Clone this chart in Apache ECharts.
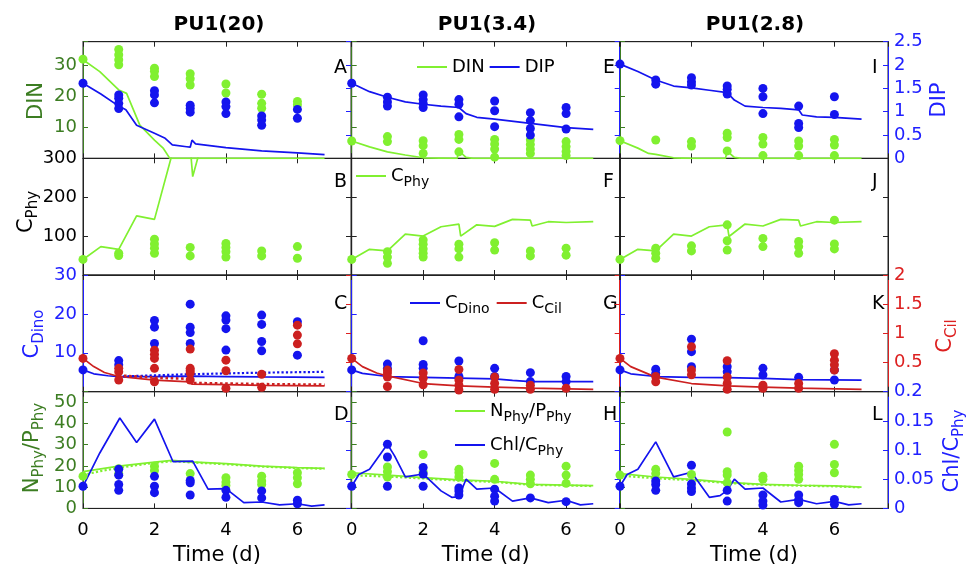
<!DOCTYPE html>
<html><head><meta charset="utf-8">
<script src="https://cdn.jsdelivr.net/npm/echarts@6/dist/echarts.min.js"></script>
<style>html,body{margin:0;padding:0;background:#fff}#c{width:971px;height:573px}</style>
</head><body><div id="c"></div>
<script>
// ---------------- DATA ----------------
const columnTitles = ['PU1(20)', 'PU1(3.4)', 'PU1(2.8)'];
const panelLetters = [['A','E','I'],['B','F','J'],['C','G','K'],['D','H','L']];
const xTicks = [0, 2, 4, 6];
const dinTicks = [10, 20, 30];
const dipTicks = [0, 0.5, 1, 1.5, 2, 2.5];
const cphyTicks = [100, 200, 300];
const cdinoTicks = [10, 20, 30];
const ccilTicks = [0.5, 1, 1.5, 2];
const npTicks = [0, 10, 20, 30, 40, 50];
const chlTicks = [0, 0.05, 0.1, 0.15, 0.2];

// Row 1: DIN / DIP
const din_obs_20 = [[0,31.9],[1,35],[1,33.3],[1,31.7],[1,30.1],[2,29],[2,28],[2,26.3],[3,27.2],[3,25.6],[3,23.6],[4,23.9],[4,21],[5,20.6],[5,17.7],[5,16.1],[6,18.3],[6,17.2]];
const dip_obs_20 = [[0,1.61],[1,1.36],[1,1.29],[1,1.18],[1,1.07],[2,1.45],[2,1.36],[2,1.19],[3,1.14],[3,1.07],[3,0.99],[4,1.21],[4,1.11],[4,0.96],[5,0.91],[5,0.82],[5,0.71],[6,1.05],[6,0.86]];
const din_line_20 = [[0,31.7],[0.47,27.9],[1,22],[1.22,20.9],[1.59,10.7],[2,5.9],[2.25,3.2],[2.43,0],[6.76,0]];
const dip_line_20 = [[0,1.61],[0.5,1.38],[1,1.12],[1.2,1.04],[1.5,0.71],[2,0.54],[2.3,0.43],[2.5,0.29],[2.9,0.25],[3.0,0.24],[3.05,0.39],[3.15,0.31],[4,0.23],[5,0.16],[6,0.12],[6.76,0.08]];

const din_obs_34 = [[0,5.6],[1,7],[1,5.4],[2,5.7],[2,4.1],[2,1.6],[3,7.7],[3,6.1],[3,2.1],[4,6.1],[4,4.6],[4,3.0],[4,0.4],[5,6],[5,4.5],[5,3],[5,1.6],[6,5.4],[6,3.8],[6,2.2],[6,0.9]];
const dip_obs_34 = [[0,1.61],[1,1.31],[1,1.21],[1,1.12],[2,1.36],[2,1.26],[2,1.18],[2,1.09],[3,1.26],[3,1.16],[3,0.89],[4,1.23],[4,1.02],[4,0.68],[5,0.98],[5,0.81],[5,0.64],[5,0.5],[6,1.09],[6,0.96],[6,0.63]];
const din_line_34 = [[0,5.6],[0.5,3.7],[1,2.1],[1.5,1.1],[2,0.2],[2.95,0],[3.0,2.4],[3.2,0.3],[3.4,0],[6.76,0]];
const dip_line_34 = [[0,1.61],[0.5,1.43],[1,1.31],[1.5,1.21],[2,1.16],[2.5,1.12],[3,1.09],[3.2,0.96],[3.5,0.88],[4,0.84],[5,0.75],[6,0.66],[6.76,0.62]];

const din_obs_28 = [[0,5.7],[1,5.9],[2,5.4],[2,4],[3,8.1],[3,6.7],[3,2.4],[4,6.7],[4,4.6],[4,0.9],[5,5.6],[5,4],[5,0.9],[6,6.1],[6,4.3],[6,0.9]];
const dip_obs_28 = [[0,2.02],[1,1.68],[1,1.59],[2,1.73],[2,1.64],[2,1.57],[3,1.55],[3,1.48],[3,1.38],[4,1.5],[4,1.32],[4,0.96],[5,1.12],[5,0.75],[5,0.66],[6,1.32],[6,0.94]];
const din_line_28 = [[0,5.7],[0.5,3.3],[0.8,1.6],[1,1.3],[1.5,0.2],[2,0],[2.95,0],[3.0,2.3],[3.2,0.3],[3.4,0],[6.76,0]];
const dip_line_28 = [[0,2.02],[0.5,1.86],[1,1.68],[1.5,1.55],[2,1.51],[2.5,1.46],[3,1.41],[3.2,1.25],[3.5,1.12],[4,1.09],[4.5,1.07],[5,1.04],[5.1,0.93],[5.5,0.89],[6,0.88],[6.76,0.84]];

// Row 2: C_Phy
const cphy_obs_20 = [[0,40],[1,56],[1,50],[2,92],[2,80],[2,69],[2,56],[3,71],[3,49],[4,81],[4,71],[4,60],[4,46],[5,62],[5,49],[6,73],[6,43]];
const cphy_line_20 = [[0,40],[0.5,73],[1,66],[1.5,152],[2,143],[2.55,330],[3.0,330],[3.07,253],[3.3,330],[6.76,340]];
const cphy_obs_34 = [[0,40],[1,60],[1,46],[1,30],[2,90],[2,79],[2,67],[2,56],[2,46],[3,79],[3,67],[3,46],[4,83],[4,64],[5,62],[5,49],[6,69],[6,51]];
const cphy_line_34 = [[0,40],[0.5,66],[1,62],[1.5,105],[2,100],[2.5,124],[3,131],[3.05,100],[3.5,129],[4,125],[4.5,143],[5,141],[5.05,126],[5.5,137],[6,135],[6.76,137]];
const cphy_obs_28 = [[0,40],[1,69],[1,56],[1,43],[2,75],[2,62],[3,129],[3,88],[3,64],[4,94],[4,73],[5,86],[5,73],[5,56],[6,141],[6,80],[6,67]];
const cphy_line_28 = [[0,40],[0.5,66],[1,62],[1.5,105],[2,100],[2.5,124],[3,129],[3.05,99],[3.5,131],[4,126],[4.5,143],[5,141],[5.05,126],[5.5,137],[6,135],[6.76,137]];

// Row 3: C_Dino / C_Cil
const cdino_obs_20 = [[0,5.6],[1,8],[1,6.9],[2,18.3],[2,16.6],[2,12.4],[3,22.5],[3,16.6],[3,15.2],[3,12.4],[4,19.5],[4,18.4],[4,16.2],[4,10.7],[5,19.7],[5,17.3],[5,12.9],[5,10.5],[6,18],[6,9.4]];
const ccil_obs_20 = [[0,0.57],[1,0.40],[1,0.34],[1,0.2],[2,0.71],[2,0.64],[2,0.57],[2,0.40],[2,0.17],[3,0.73],[3,0.40],[3,0.36],[3,0.32],[3,0.2],[4,0.54],[4,0.36],[4,0.06],[5,0.3],[5,0.075],[6,1.14],[6,0.97],[6,0.82]];
const cdino_line_20 = [[0,5.6],[0.3,4.6],[0.7,4.1],[1,3.9],[2,3.9],[3,4.0],[4,3.9],[5,3.8],[6.76,3.7]];
const cdino_dot_20 = [[1,3.9],[2,4.2],[3,4.5],[4,4.7],[5,4.9],[6.76,5.1]];
const ccil_line_20 = [[0,0.57],[0.3,0.43],[0.6,0.33],[1,0.26],[2,0.2],[3,0.17],[3.05,0.13],[4,0.12],[5,0.11],[6.76,0.1]];
const ccil_dot_20 = [[1,0.28],[2,0.24],[3,0.22],[3.05,0.15],[4,0.14],[5,0.13],[6.76,0.12]];

const cdino_obs_34 = [[0,5.6],[1,7.1],[1,6.0],[2,13.1],[2,7.0],[2,6.0],[3,7.9],[3,3.9],[4,6.0],[4,3.9],[5,4.9],[5,2.6],[6,3.9],[6,2.6]];
const ccil_obs_34 = [[0,0.57],[1,0.37],[1,0.32],[1,0.25],[1,0.09],[2,0.32],[2,0.23],[2,0.12],[3,0.38],[3,0.2],[3,0.11],[3,0.03],[4,0.25],[4,0.14],[4,0.04],[5,0.11],[5,0.04],[6,0.06]];
const cdino_line_34 = [[0,5.6],[0.3,4.7],[1,3.9],[2,3.7],[3,3.5],[4,3.3],[4.5,2.9],[5,2.6],[6.76,2.6]];
const ccil_line_34 = [[0,0.57],[0.3,0.43],[0.7,0.32],[1,0.27],[2,0.14],[3,0.1],[4,0.08],[5,0.06],[6.76,0.04]];

const cdino_obs_28 = [[0,5.6],[1,5.8],[1,4.7],[2,13.5],[2,10.3],[2,6.4],[3,6.4],[3,5.1],[4,6.0],[4,4.3],[5,3.7],[6,5.6],[6,3.0]];
const ccil_obs_28 = [[0,0.57],[1,0.26],[1,0.17],[2,0.77],[2,0.37],[2,0.29],[3,0.53],[3,0.25],[3,0.14],[3,0.04],[4,0.11],[4,0.06],[5,0.14],[5,0.06],[6,0.65],[6,0.54],[6,0.46],[6,0.37]];
const cdino_line_28 = [[0,5.6],[0.3,4.6],[1,3.9],[2,3.7],[3,3.6],[4,3.4],[5,3.1],[6.76,3.0]];
const ccil_line_28 = [[0,0.57],[0.3,0.43],[1,0.25],[2,0.14],[3,0.1],[4,0.08],[5,0.06],[6.76,0.04]];

// Row 4: N_Phy/P_Phy / Chl/C_Phy
const np_obs_20 = [[0,15.2],[1,18.7],[1,16.4],[2,19.9],[2,17.9],[3,16.4],[4,14.5],[4,12.4],[4,10.8],[5,15.2],[5,12.9],[5,11.3],[6,16.8],[6,14.5],[6,11.6]];
const chl_obs_20 = [[0,0.038],[1,0.067],[1,0.057],[1,0.041],[1,0.031],[2,0.055],[2,0.038],[2,0.027],[3,0.048],[3,0.044],[3,0.023],[4,0.031],[4,0.019],[5,0.030],[5,0.018],[6,0.014],[6,0.008]];
const np_line_20 = [[0,17.3],[1,19.9],[2,21.8],[2.5,22.6],[3,21.9],[4,21.1],[5,19.9],[6,19.2],[6.76,18.9]];
const np_dot_20 = [[0,15.8],[0.5,17.6],[1,19.1],[1.5,20.4],[2,21.4],[2.5,22.3],[3,21.7],[4,20.8],[5,19.7],[6,19.0],[6.76,18.7]];
const chl_line_20 = [[0,0.038],[0.25,0.068],[0.47,0.095],[1.03,0.155],[1.5,0.113],[2,0.153],[2.52,0.08],[3.07,0.081],[3.5,0.033],[4,0.034],[4.5,0.01],[5,0.011],[5.5,0.006],[6,0.008],[6.4,0.004],[6.76,0.006]];

const np_obs_34 = [[0,16],[1,19.5],[1,17.3],[1,14.8],[2,25.4],[2,17.3],[3,18.4],[3,16.8],[3,14.8],[4,21.2],[4,13.7],[5,15.7],[5,13.7],[5,11.6],[6,19.9],[6,15.7],[6,11.8]];
const chl_obs_34 = [[0,0.038],[1,0.11],[1,0.088],[1,0.038],[2,0.07],[2,0.059],[2,0.038],[3,0.035],[3,0.03],[3,0.023],[4,0.033],[4,0.021],[4,0.0125],[5,0.018],[6,0.0115]];
const np_line_34 = [[0,16.8],[1,15.7],[2,14.5],[3,13.4],[4,12.8],[5,11.3],[6,11.0],[6.76,10.7]];
const np_dot_34 = [[0,15.6],[1,15.0],[2,14.1],[3,13.1],[4,12.5],[5,11.1],[6,10.8],[6.76,10.5]];
const chl_line_34 = [[0,0.038],[0.2,0.058],[0.5,0.067],[1,0.11],[1.2,0.09],[1.5,0.054],[2,0.059],[2.5,0.03],[2.8,0.019],[3,0.02],[3.2,0.05],[3.5,0.033],[4,0.035],[4.5,0.0125],[5,0.018],[5.5,0.0098],[6,0.014],[6.4,0.006],[6.76,0.008]];

const np_obs_28 = [[0,15.7],[1,18.4],[1,16.4],[2,16],[3,36],[3,17.3],[3,15.7],[3,12.1],[4,15.2],[4,13.7],[5,19.9],[5,17.9],[5,16],[5,13.7],[6,30.2],[6,20.7],[6,16.8]];
const chl_obs_28 = [[0,0.038],[1,0.047],[1,0.041],[1,0.031],[2,0.074],[2,0.042],[2,0.035],[2,0.029],[3,0.031],[3,0.0125],[4,0.023],[4,0.0125],[4,0.0057],[5,0.023],[5,0.015],[5,0.0098],[6,0.0154],[6,0.007]];
const np_line_28 = [[0,16.4],[1,14.8],[2,13.7],[3,12.3],[4,11.3],[5,10.9],[6,10.6],[6.76,10.0]];
const np_dot_28 = [[0,15.4],[1,14.2],[2,13.3],[3,12.0],[4,11.1],[5,10.7],[6,10.4],[6.76,9.9]];
const chl_line_28 = [[0,0.038],[0.2,0.058],[0.5,0.067],[1,0.114],[1.5,0.054],[2,0.062],[2.5,0.019],[2.8,0.022],[3,0.031],[3.2,0.05],[3.5,0.033],[4,0.035],[4.5,0.011],[5,0.0155],[5.5,0.008],[6,0.012],[6.4,0.006],[6.76,0.008]];

// ---------------- STYLE / LAYOUT ----------------
const FONT = 'DejaVu Sans';
const GREEN = '#80f030', BLUE = '#1414ee', RED = '#cc2020';
const AXGREEN = '#3c7d22', AXBLUE = '#2020ff', AXRED = '#dd2020', AXBLACK = '#222222';
const colLeft = [83, 351.7, 620], rowTop = [41.7, 158.3, 275, 391.7], PW = 268, PH = 116.7;

const rowAxes = [
  {L:{min:0,max:37.5,interval:10,color:AXGREEN,labels:dinTicks}, R:{min:0,max:2.5,interval:0.5,color:AXBLUE,labels:dipTicks}},
  {L:{min:0,max:300,interval:100,color:AXBLACK,labelColor:'#000',labels:cphyTicks}, R:{min:0,max:300,interval:100,color:AXBLACK,labels:[]}},
  {L:{min:0,max:30,interval:10,color:AXBLUE,labels:cdinoTicks}, R:{min:0,max:2,interval:0.5,color:AXRED,labels:ccilTicks}},
  {L:{min:0,max:55,interval:10,color:AXGREEN,labels:npTicks}, R:{min:0,max:0.2,interval:0.05,color:AXBLUE,labels:chlTicks}}
];

function fmtFrom(list) {
  return function (v) {
    const hit = list.find(t => Math.abs(t - v) < 1e-9);
    return hit === undefined ? '' : String(hit);
  };
}

const grids = [], xAxes = [], yAxes = [], series = [];
const xB = [], yL = [], yR = [];
for (let r = 0; r < 4; r++) {
  for (let c = 0; c < 3; c++) {
    const gi = r * 3 + c;
    grids.push({left: colLeft[c], top: rowTop[r], width: PW, height: PH, show: true,
      borderColor: AXBLACK, borderWidth: 1, backgroundColor: 'transparent', containLabel: false, outerBoundsMode: 'none'});
    xB[gi] = xAxes.length;
    xAxes.push({gridIndex: gi, type: 'value', min: 0, max: 7.5, interval: 2, position: 'bottom',
      axisLine: {show: true, onZero: false, lineStyle: {color: AXBLACK, width: 1}},
      axisTick: {show: true, inside: true, length: 5, lineStyle: {color: AXBLACK}},
      axisLabel: {show: r === 3, formatter: fmtFrom(xTicks), fontFamily: FONT, fontSize: 18, color: '#000', margin: 13},
      splitLine: {show: false},
      name: r === 3 ? 'Time (d)' : '', nameLocation: 'middle', nameGap: 37,
      nameTextStyle: {fontFamily: FONT, fontSize: 21, color: '#000'}});
    xAxes.push({gridIndex: gi, type: 'value', min: 0, max: 7.5, interval: 2, position: 'top',
      axisLine: {show: true, onZero: false, lineStyle: {color: AXBLACK, width: 1}},
      axisTick: {show: true, inside: true, length: 5, lineStyle: {color: AXBLACK}},
      axisLabel: {show: false}, splitLine: {show: false}});
    ['L', 'R'].forEach(side => {
      const s = rowAxes[r][side];
      const showLab = (side === 'L' && c === 0) || (side === 'R' && c === 2);
      if (side === 'L') yL[gi] = yAxes.length; else yR[gi] = yAxes.length;
      yAxes.push({gridIndex: gi, type: 'value', min: s.min, max: s.max, interval: s.interval,
        position: side === 'L' ? 'left' : 'right',
        axisLine: {show: true, onZero: false, lineStyle: {color: s.color, width: 1}},
        axisTick: {show: true, inside: true, length: 5, lineStyle: {color: s.color}},
        axisLabel: {show: showLab, formatter: fmtFrom(s.labels), fontFamily: FONT, fontSize: 18,
          color: s.labelColor || s.color, margin: 6},
        splitLine: {show: false}});
    });
  }
}

function line(name, data, gi, side, color, type, width) {
  series.push({type: 'line', name: name, data: data, xAxisIndex: xB[gi],
    yAxisIndex: side === 'L' ? yL[gi] : yR[gi], symbol: 'none', showSymbol: false,
    lineStyle: {color: color, width: width || 1.7, type: type || 'solid'},
    itemStyle: {color: color}, clip: true, silent: true, z: 2});
}
function dots(name, data, gi, side, color) {
  series.push({type: 'scatter', name: name, data: data, xAxisIndex: xB[gi],
    yAxisIndex: side === 'L' ? yL[gi] : yR[gi], symbol: 'circle', symbolSize: 9,
    itemStyle: {color: color, opacity: 1}, silent: true, z: 3});
}

const cols = [
  {din: din_line_20, dip: dip_line_20, dinO: din_obs_20, dipO: dip_obs_20, cp: cphy_line_20, cpO: cphy_obs_20,
   cd: cdino_line_20, cc: ccil_line_20, cdO: cdino_obs_20, ccO: ccil_obs_20, cdD: cdino_dot_20, ccD: ccil_dot_20,
   np: np_line_20, npD: np_dot_20, chl: chl_line_20, npO: np_obs_20, chlO: chl_obs_20},
  {din: din_line_34, dip: dip_line_34, dinO: din_obs_34, dipO: dip_obs_34, cp: cphy_line_34, cpO: cphy_obs_34,
   cd: cdino_line_34, cc: ccil_line_34, cdO: cdino_obs_34, ccO: ccil_obs_34,
   np: np_line_34, npD: np_dot_34, chl: chl_line_34, npO: np_obs_34, chlO: chl_obs_34},
  {din: din_line_28, dip: dip_line_28, dinO: din_obs_28, dipO: dip_obs_28, cp: cphy_line_28, cpO: cphy_obs_28,
   cd: cdino_line_28, cc: ccil_line_28, cdO: cdino_obs_28, ccO: ccil_obs_28,
   np: np_line_28, npD: np_dot_28, chl: chl_line_28, npO: np_obs_28, chlO: chl_obs_28}
];

cols.forEach((d, c) => {
  // row 1
  line('DIN', d.din, c, 'L', GREEN);
  line('DIP', d.dip, c, 'R', BLUE);
  dots('DIN obs', d.dinO, c, 'L', GREEN);
  dots('DIP obs', d.dipO, c, 'R', BLUE);
  // row 2
  line('CPhy', d.cp, 3 + c, 'L', GREEN);
  dots('CPhy obs', d.cpO, 3 + c, 'L', GREEN);
  // row 3
  line('CDino', d.cd, 6 + c, 'L', BLUE);
  line('CCil', d.cc, 6 + c, 'R', RED);
  if (d.cdD) line('CDino alt', d.cdD, 6 + c, 'L', BLUE, 'dotted', 2.2);
  if (d.ccD) line('CCil alt', d.ccD, 6 + c, 'R', RED, 'dotted', 2.6);
  dots('CDino obs', d.cdO, 6 + c, 'L', BLUE);
  dots('CCil obs', d.ccO, 6 + c, 'R', RED);
  // row 4
  line('NP', d.np, 9 + c, 'L', GREEN);
  line('NP alt', d.npD, 9 + c, 'L', GREEN, 'dotted', 2.2);
  line('ChlC', d.chl, 9 + c, 'R', BLUE);
  dots('NP obs', d.npO, 9 + c, 'L', GREEN);
  dots('ChlC obs', d.chlO, 9 + c, 'R', BLUE);
});

const legendRich = {
  n: {fontFamily: FONT, fontSize: 18, color: '#000'},
  s: {fontFamily: FONT, fontSize: 14, color: '#000', padding: [12, 0, 0, 0]}
};
const legendText = {
  DIN: '{n|DIN}', DIP: '{n|DIP}', CPhy: '{n|C}{s|Phy}', CDino: '{n|C}{s|Dino}', CCil: '{n|C}{s|Cil}',
  NP: '{n|N}{s|Phy}{n|/P}{s|Phy}', ChlC: '{n|Chl/C}{s|Phy}'
};
function mkLegend(names, left, top, orient, gap) {
  return {data: names.map(n => ({name: n, icon: 'rect'})), left: left, top: top, orient: orient || 'horizontal',
    itemWidth: 30, itemHeight: 2, itemGap: gap, padding: 0, selectedMode: false, formatter: n => legendText[n],
    textStyle: {fontFamily: FONT, fontSize: 18, color: '#000', rich: legendRich}};
}

// graphic text: titles, letters, axis names
const g = [];
const titleX = [219, 487, 755];
columnTitles.forEach((t, c) => g.push({type: 'text', x: titleX[c], y: 25,
  style: {text: t, fontFamily: FONT, fontSize: 20, fontWeight: 'bold', fill: '#000', align: 'center', verticalAlign: 'middle'}}));
const letterX = [334, 603, 872], letterY = [68.5, 182.5, 304, 415];
panelLetters.forEach((row, r) => row.forEach((L, c) => g.push({type: 'text', x: letterX[c], y: letterY[r],
  style: {text: L, fontFamily: FONT, fontSize: 19, fill: '#000', align: 'left', verticalAlign: 'middle'}})));

function nameRich(color) {
  return {n: {fontFamily: FONT, fontSize: 21, fill: color}, s: {fontFamily: FONT, fontSize: 15, fill: color, padding: [13, 0, 0, 0]}};
}
const axisNames = [
  {text: '{n|DIN}', x: 37, y: 101, color: AXGREEN},
  {text: '{n|C}{s|Phy}', x: 27, y: 212, color: '#000'},
  {text: '{n|C}{s|Dino}', x: 33, y: 334, color: AXBLUE},
  {text: '{n|N}{s|Phy}{n|/P}{s|Phy}', x: 33, y: 448, color: AXGREEN},
  {text: '{n|DIP}', x: 940, y: 100, color: AXBLUE},
  {text: '{n|C}{s|Cil}', x: 946, y: 336, color: AXRED},
  {text: '{n|Chl/C}{s|Phy}', x: 953, y: 451, color: AXBLUE}
];
axisNames.forEach(a => g.push({type: 'text', x: a.x, y: a.y, rotation: Math.PI / 2,
  style: {text: a.text, rich: nameRich(a.color), fill: a.color, fontFamily: FONT, fontSize: 21, align: 'center', verticalAlign: 'middle'}}));

const option = {
  animation: false,
  backgroundColor: '#fff',
  grid: grids, xAxis: xAxes, yAxis: yAxes, series: series,
  legend: [
    mkLegend(['DIN', 'DIP'], 417, 58, 'horizontal', 5),
    mkLegend(['CPhy'], 356, 167, 'horizontal', 4),
    mkLegend(['CDino', 'CCil'], 410, 294, 'horizontal', 7),
    mkLegend(['NP', 'ChlC'], 455, 402, 'vertical', 12)
  ],
  graphic: {elements: g}
};
const chart = echarts.init(document.getElementById('c'), null, {renderer: 'canvas', width: 971, height: 573});
chart.setOption(option);
</script></body></html>
